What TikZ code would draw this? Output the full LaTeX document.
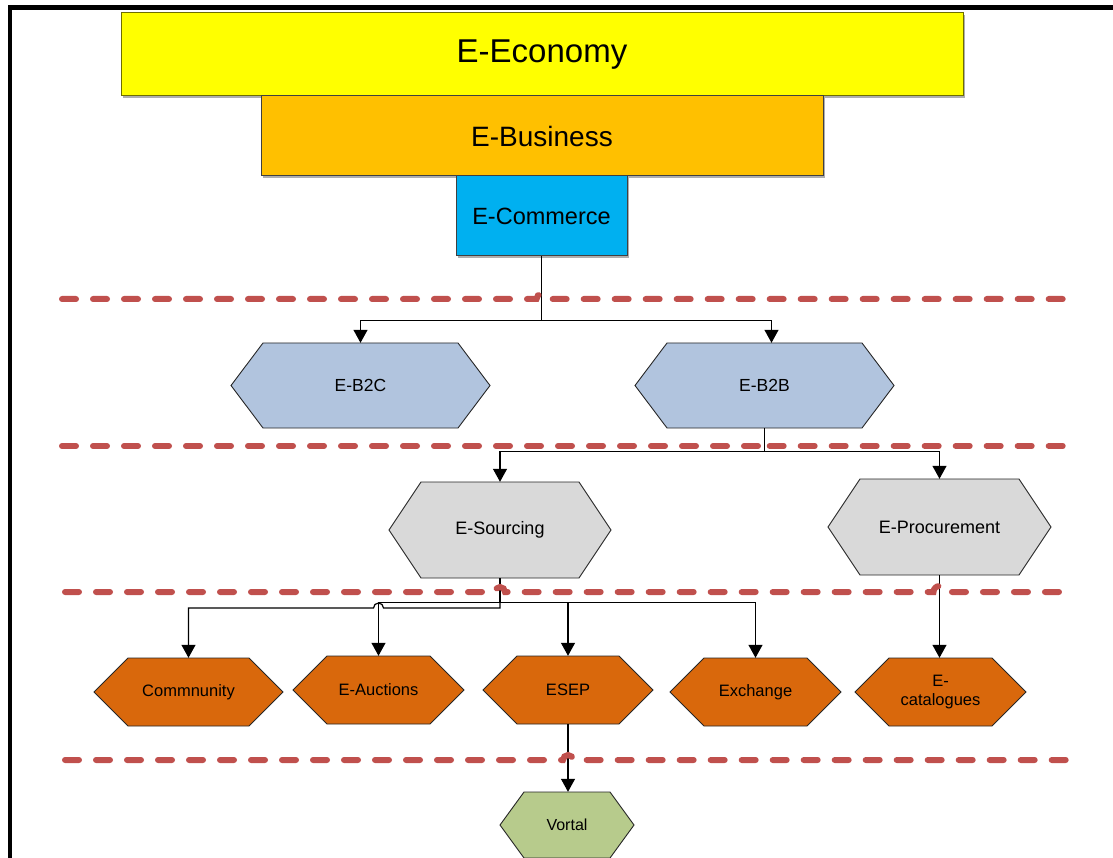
\documentclass[tikz,border=0pt]{standalone}
\usepackage{fontspec}
\setmainfont{Liberation Sans}
\usetikzlibrary{arrows.meta,shadows}

\definecolor{econyellow}{HTML}{FFFF00}
\definecolor{busgold}{HTML}{FFC000}
\definecolor{comblue}{HTML}{00B0F0}
\definecolor{steel}{RGB}{177,196,222}
\definecolor{lightgrey}{HTML}{D9D9D9}
\definecolor{burnt}{RGB}{217,104,12}
\definecolor{sage}{RGB}{183,203,140}
\definecolor{divider}{HTML}{C0504D}
\definecolor{olive}{RGB}{110,110,0}

% hexagon: name, cx, cy, width, height, slant run, fill, font, text
\newcommand\hexnode[9]{%
  \filldraw[hexline,fill=#7]
    (#2-#4/2,#3) -- (#2-#4/2+#6,#3-#5/2) -- (#2+#4/2-#6,#3-#5/2)
    -- (#2+#4/2,#3) -- (#2+#4/2-#6,#3+#5/2) -- (#2-#4/2+#6,#3+#5/2) -- cycle;
  \node[hexlabel,minimum width=#4pt,minimum height=#5pt,font=#8] (#1) at (#2,#3) {#9};
}

\tikzset{
  rectbox/.style={draw=black!75,line width=1pt,inner sep=0pt,
    drop shadow={shadow xshift=2pt,shadow yshift=-2pt,fill=black!45,opacity=.7}},
  hexline/.style={draw=black!85,line width=0.9pt},
  hexlabel/.style={inner sep=0pt,align=center,text=black},
  conn/.style={draw=black,line width=1.2pt,-{Triangle[width=14pt,length=13pt]}},
  reddash/.style={draw=divider,line width=6pt,line cap=round,dash pattern=on 14pt off 17pt},
}

\begin{document}
\begin{tikzpicture}[x=1pt,y=-1pt]
\useasboundingbox (0,0) rectangle (1113,858);

% outer frame
\draw[line width=4.5pt] (10,860) -- (10,7.5) -- (1115,7.5);

% stacked layers
\node[rectbox,fill=econyellow,draw=olive,minimum width=842pt,minimum height=83pt,
  font=\fontsize{33pt}{36pt}\selectfont] (econ) at (542,54.5) {E-Economy};
\node[rectbox,fill=busgold,minimum width=562pt,minimum height=80pt,
  font=\fontsize{28pt}{31pt}\selectfont] (ebus) at (542,136) {E-Business};
\node[rectbox,fill=comblue,minimum width=171pt,minimum height=80pt,
  font=\fontsize{23.5pt}{26pt}\selectfont] (ecom) at (541.5,216) {E-Commerce};

% second level
\hexnode{b2c}{360.5}{385.5}{259}{85}{32}{steel}{\fontsize{17.5pt}{20pt}\selectfont}{E-B2C}
\hexnode{b2b}{764.5}{385.5}{259}{85}{32}{steel}{\fontsize{17.5pt}{20pt}\selectfont}{E-B2B}

% third level
\hexnode{esrc}{500}{530}{222}{96}{32}{lightgrey}{\fontsize{18pt}{21pt}\selectfont}{E-Sourcing}
\hexnode{eproc}{939.5}{527}{223}{96}{32}{lightgrey}{\fontsize{18pt}{21pt}\selectfont}{E-Procurement}

% fourth level
\hexnode{comm}{188.5}{692}{189}{68}{34}{burnt}{\fontsize{16.5pt}{19pt}\selectfont}{Commnunity}
\hexnode{eauc}{378.5}{690}{171}{68}{34}{burnt}{\fontsize{16.5pt}{19pt}\selectfont}{E-Auctions}
\hexnode{esep}{568}{690}{170}{68}{34}{burnt}{\fontsize{16.5pt}{19pt}\selectfont}{ESEP}
\hexnode{exch}{755.5}{692}{171}{68}{34}{burnt}{\fontsize{16.5pt}{19pt}\selectfont}{Exchange}
\hexnode{ecat}{940.5}{692}{171}{68}{34}{burnt}{\fontsize{16.5pt}{19pt}\selectfont}{E-\\catalogues}

% fifth level
\hexnode{vortal}{567}{825}{134}{66}{24}{sage}{\fontsize{16pt}{19pt}\selectfont}{Vortal}

% connectors
\draw[conn] (ecom.south) -- ++(0,64) -| (b2c.north);
\draw[conn] (ecom.south) -- ++(0,64) -| ([xshift=7pt]b2b.north);

\draw[conn] (b2b.south) -- ++(0,23) -| (esrc.north);
\draw[conn] (b2b.south) -- ++(0,23) -| (eproc.north);

\draw[conn] (esrc.south) -- ++(0,24) -| (eauc.north);
\draw[conn] (esrc.south) -- ++(0,24) -| (esep.north);
\draw[conn] (esrc.south) -- ++(0,24) -| (exch.north);
\coordinate (lowbus) at (0,608);
\coordinate (hopc) at (eauc.north |- lowbus);
\draw[conn] (esrc.south) |- ([xshift=5pt]hopc)
  arc[start angle=0,end angle=180,radius=5pt] -| (comm.north);

\draw[conn] (eproc.south) -- (eproc.south |- ecat.north);
\draw[conn] (esep.south) -- (esep.south |- vortal.north);

% level dividers, hopping over the connectors
\coordinate (d1) at (0,299);
\coordinate (d2) at (0,446);
\coordinate (d3) at (0,592);
\coordinate (d4) at (0,760);
\coordinate (h1) at (ecom.south |- d1);
\coordinate (h2) at (b2b.south |- d2);
\coordinate (h3a) at (esrc.south |- d3);
\coordinate (h3b) at (eproc.south |- d3);
\coordinate (h4) at (esep.south |- d4);

\draw[reddash] (62,299) -- ([xshift=-5pt]h1) arc[start angle=180,end angle=0,radius=5pt] -- (1068,299);
\draw[reddash] (62,446) -- ([xshift=-5pt]h2) arc[start angle=180,end angle=0,radius=5pt] -- (1068,446);
\draw[reddash] (65,592) -- ([xshift=-5pt]h3a) arc[start angle=180,end angle=0,radius=5pt]
  -- ([xshift=-6pt]h3b) arc[start angle=180,end angle=0,radius=6pt] -- (1068,592);
\draw[reddash] (65,760) -- ([xshift=-5pt]h4) arc[start angle=180,end angle=0,radius=5pt] -- (1070,760);
\end{tikzpicture}
\end{document}
